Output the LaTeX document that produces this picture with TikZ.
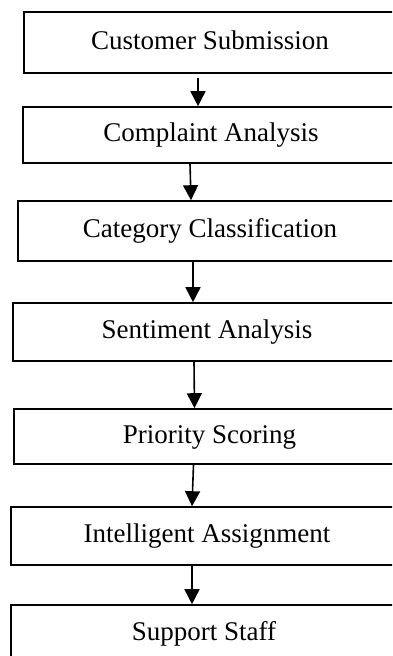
\documentclass[tikz,border=0pt]{standalone}
\usepackage{fontspec}
\setmainfont{Liberation Serif}
\usepackage{tikz}
\usetikzlibrary{positioning,arrows.meta}

\tikzset{
    stage/.style={draw=black, line width=1.6pt, rectangle, inner sep=0pt,
        font=\fontsize{27}{32}\selectfont, text height=18pt, text depth=5pt},
    flow/.style={-{Triangle[width=15pt,length=15pt]}, line width=1.6pt}
}

\begin{document}
\begin{tikzpicture}[x=1pt, y=-1pt]
    % page frame (the boxes run past the right and bottom edges)
    \useasboundingbox (0,0) rectangle (392,656);
    \clip (0,0) rectangle (392,656);

    % =========================================================
    % Stages
    % =========================================================
    \node[stage, minimum width=372pt, minimum height=61pt] (submit)   at (210,42.5)  {Customer Submission};
    \node[stage, minimum width=376pt, minimum height=56pt] (analyse)  at (211,135)   {Complaint Analysis};
    \node[stage, minimum width=384pt, minimum height=60pt] (classify) at (210,231)   {Category Classification};
    \node[stage, minimum width=388pt, minimum height=58pt] (sentim)   at (207,332)   {Sentiment Analysis};
    \node[stage, minimum width=391pt, minimum height=55pt] (priority) at (209.5,436.5) {Priority Scoring};
    \node[stage, minimum width=392pt, minimum height=58pt] (assign)   at (207,536)   {Intelligent Assignment};
    \node[stage, minimum width=386pt, minimum height=58pt] (staff)    at (204,634)   {Support Staff};

    % =========================================================
    % Arrows between stages
    % =========================================================
    \draw[flow, shorten <=4pt] ([xshift=-12pt]submit.south) -- ([xshift=-13pt]analyse.north);
    \draw[flow] ([xshift=-21pt]analyse.south)  -- ([xshift=-19pt]classify.north);
    \draw[flow] ([xshift=-17pt]classify.south) -- ([xshift=-14pt]sentim.north);
    \draw[flow] ([xshift=-13pt]sentim.south)   -- ([xshift=-15pt]priority.north);
    \draw[flow] ([xshift=-16pt]priority.south) -- ([xshift=-15pt]assign.north);
    \draw[flow] ([xshift=-15pt]assign.south)   -- ([xshift=-12pt]staff.north);
\end{tikzpicture}
\end{document}
